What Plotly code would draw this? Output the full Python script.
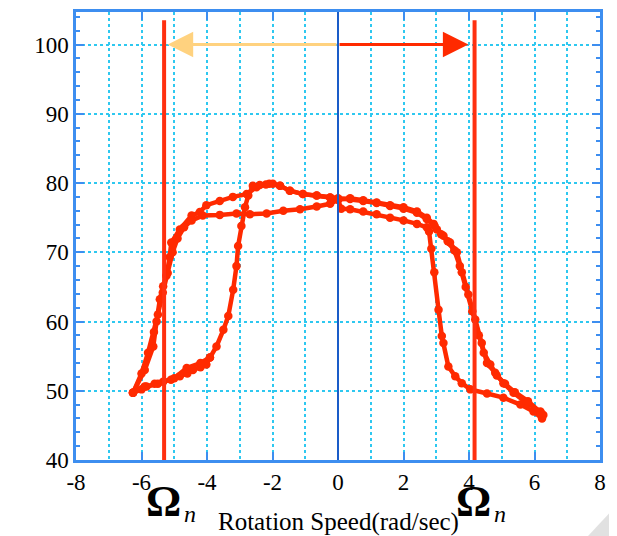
import plotly.graph_objects as go

# ---- data ----
# sweep from +6.3 down to -6.3 (steep recovery near +3, gradual drop near -5.3)
down_x = [6.23, 5.97, 5.57, 5.05, 4.55, 4.04, 3.78, 3.58, 3.37, 3.22, 3.17, 3.07, 2.94, 2.85, 2.78,
          2.71, 2.41, 2.0, 1.59, 1.18, 0.77, 0.37, 0.1, 0.0, -0.24, -0.65, -1.07, -1.47, -1.77, -1.99,
          -2.2, -2.49, -2.79, -3.21, -3.61, -4.02, -4.22, -4.47, -4.83, -5.09, -5.14, -5.24, -5.34,
          -5.44, -5.54, -5.64, -5.9, -6.26]
down_y = [46.0, 47.0, 48.0, 49.0, 49.6, 50.2, 51.1, 52.1, 53.5, 56.9, 57.9, 61.7, 67.1, 70.5, 73.0,
          73.6, 74.1, 74.6, 75.0, 75.5, 75.9, 76.2, 76.3, 77.6, 77.9, 78.2, 78.4, 78.9, 79.6, 79.9,
          79.8, 79.4, 78.4, 78.0, 77.4, 76.8, 75.8, 75.3, 73.3, 71.4, 69.3, 66.6, 65.1,
          63.2, 60.0, 56.4, 53.0, 49.7]

# sweep from -6.3 up to +6.3 (gradual recovery near -5.3, gradual drop near +4)
up1_x = [-6.26, -6.0, -5.8, -5.62, -5.5, -5.35, -5.2, -5.05, -4.9, -4.7, -4.47, -4.13, -3.61, -3.1,
         -2.69, -2.18, -1.67, -1.16, -0.65, -0.24, 0.0, 0.37, 0.77, 1.18, 1.59, 2.0, 2.41, 2.71, 2.92,
         3.02, 3.22, 3.42, 3.63, 3.78, 3.98, 4.19, 4.39, 4.55, 4.8, 5.05, 5.36, 5.77, 6.18, 6.27]
up1_y = [49.7, 52.5, 55.5, 58.5, 61.0, 64.2, 67.0, 70.0, 72.0, 73.6, 74.6, 75.3, 75.4, 75.6,
         75.5, 75.6, 76.0, 76.2, 76.6, 77.0, 77.6, 77.8, 77.5, 77.2, 76.8, 76.5, 75.9, 75.0, 74.1,
         73.3, 72.4, 71.4, 70.0, 67.1, 63.9, 60.3, 56.9, 54.0, 52.6, 51.1, 49.7, 48.2, 47.0, 46.5]

# sweep from -6.3 up to +6.3 (steep recovery near -3)
up2_x = [-6.26, -6.0, -5.85, -5.6, -5.34, -5.1, -4.83, -4.6, -4.43, -4.2, -4.02, -3.91, -3.71, -3.5,
         -3.35, -3.2, -3.1, -3.05, -2.95, -2.84, -2.74, -2.6, -2.39, -2.1, -1.77, -1.47, -1.07, -0.65,
         -0.24, 0.0, 0.37, 0.77, 1.18, 1.59, 2.0, 2.41, 2.71, 2.95, 3.15, 3.35, 3.55, 3.72, 3.9, 4.1,
         4.3, 4.45, 4.65, 4.85, 5.1, 5.4, 5.8, 6.2]
up2_y = [49.7, 50.2, 50.6, 51.0, 51.3, 51.6, 52.1, 52.5, 53.0, 53.4, 53.8, 54.8, 56.4, 58.8,
         60.8, 64.6, 68.0, 70.9, 73.8, 76.5, 78.2, 79.6, 79.7, 79.9, 79.6, 78.9, 78.4, 78.2,
         77.9, 77.8, 77.7, 77.4, 77.1, 76.7, 76.3, 75.7, 74.8, 73.8, 72.6, 71.6, 70.3, 68.0, 65.0, 61.5,
         58.0, 55.5, 53.8, 52.2, 51.0, 49.8, 48.5, 46.8]

# second low branch on the left
low_x = [-6.26, -5.9, -5.5, -5.0, -4.62, -4.2, -3.91]
low_y = [49.7, 50.6, 51.0, 51.8, 53.3, 54.0, 54.8]

omega_left = -5.31
omega_right = 4.17
arrow_left_tip = -5.2
arrow_right_tip = 3.98
arrow_y = 100
x_ticks = [-8, -6, -4, -2, 0, 2, 4, 6, 8]
y_ticks = [40, 50, 60, 70, 80, 90, 100]

RED = "#ff2a00"
SERIF = "Liberation Serif, Times New Roman, serif"

# page has an 8px body margin, so the figure is drawn 8px in from the top-left
OFF = 8
W, H = 617 - OFF, 536 - OFF
ML, MT = 76 - OFF, 12 - OFF
PW, PH = 524, 448
MR, MB = W - ML - PW, H - MT - PH


def px2paper(px, py):
    # px, py are page pixel positions
    return (px - OFF - ML) / PW, (MT + PH - (py - OFF)) / PH


fig = go.Figure()
for xs, ys in [(down_x, down_y), (up1_x, up1_y), (up2_x, up2_y), (low_x, low_y)]:
    fig.add_trace(go.Scatter(x=xs, y=ys, mode="lines+markers",
                             line=dict(color=RED, width=4.5),
                             marker=dict(color=RED, size=8.5),
                             showlegend=False, hoverinfo="skip"))

# vertical lines
fig.add_shape(type="line", x0=0, x1=0, y0=0, y1=1, yref="paper", xref="x",
              line=dict(color="#1a5cc8", width=2))
for xv in [omega_left, omega_right]:
    fig.add_shape(type="line", x0=xv, x1=xv, y0=40, y1=103.5,
                  line=dict(color="#ff3010", width=4))

# arrows
fig.add_annotation(x=arrow_left_tip, y=arrow_y, ax=0, ay=arrow_y, xref="x", yref="y",
                   axref="x", ayref="y", showarrow=True, arrowhead=2, arrowsize=1.7,
                   arrowwidth=3, arrowcolor="#ffd27f", text="")
fig.add_annotation(x=arrow_right_tip, y=arrow_y, ax=0, ay=arrow_y, xref="x", yref="y",
                   axref="x", ayref="y", showarrow=True, arrowhead=2, arrowsize=1.7,
                   arrowwidth=3, arrowcolor="#ff2a00", text="")

# Omega labels and axis title
for px in [163, 473]:
    ox, oy = px2paper(px, 501)
    fig.add_annotation(x=ox, y=oy, xref="paper", yref="paper", xanchor="center",
                       yanchor="middle", text="<b>Ω</b>", showarrow=False, borderpad=0,
                       font=dict(family=SERIF, size=44, color="black"))
    nx, ny = px2paper(px + 27, 514)
    fig.add_annotation(x=nx, y=ny, xref="paper", yref="paper", xanchor="center",
                       yanchor="middle", text="<i>n</i>", showarrow=False, borderpad=0,
                       font=dict(family=SERIF, size=24, color="black"))
tx, ty = px2paper(338, 522)
fig.add_annotation(x=tx, y=ty, xref="paper", yref="paper", xanchor="center",
                   yanchor="middle", text="Rotation Speed(rad/sec)", showarrow=False,
                   borderpad=0, font=dict(family=SERIF, size=25, color="black"))

# page-curl shadow in the bottom-right corner
fig.add_shape(type="path", xref="paper", yref="paper",
              path="M {0} {1} L {2} {3} L {2} {1} Z".format(
                  *px2paper(588, 536), *px2paper(617, 505)),
              fillcolor="rgba(170,170,170,0.35)", line=dict(width=0), layer="above")

AX_BLUE = "#3d8ef0"
GRID = "#2ec8f0"
fig.update_xaxes(range=[-8, 8], tickvals=x_ticks, ticktext=[str(v) for v in x_ticks],
                 ticks="inside", ticklen=8, tickwidth=1.5, tickcolor=AX_BLUE,
                 showline=True, linecolor=AX_BLUE, linewidth=2.5, mirror="allticks",
                 showgrid=True, gridcolor=GRID, griddash="dot", gridwidth=1.5,
                 minor=dict(dtick=1, showgrid=True, gridcolor=GRID, griddash="dot", gridwidth=1.5),
                 zeroline=False,
                 tickfont=dict(family=SERIF, size=23, color="black"))
fig.update_yaxes(range=[40, 104.7], tickvals=y_ticks, ticktext=[str(v) for v in y_ticks],
                 ticks="inside", ticklen=8, tickwidth=1.5, tickcolor=AX_BLUE,
                 showline=True, linecolor=AX_BLUE, linewidth=2.5, mirror="allticks",
                 showgrid=True, gridcolor=GRID, griddash="dot", gridwidth=1.5,
                 minor=dict(dtick=2, ticks="inside", ticklen=4, tickcolor=AX_BLUE, showgrid=False),
                 zeroline=False,
                 tickfont=dict(family=SERIF, size=23, color="black"))

fig.update_layout(width=W, height=H,
                  margin=dict(l=ML, r=MR, t=MT, b=MB, autoexpand=False),
                  plot_bgcolor="white", paper_bgcolor="white")

fig.write_html("out.html")
